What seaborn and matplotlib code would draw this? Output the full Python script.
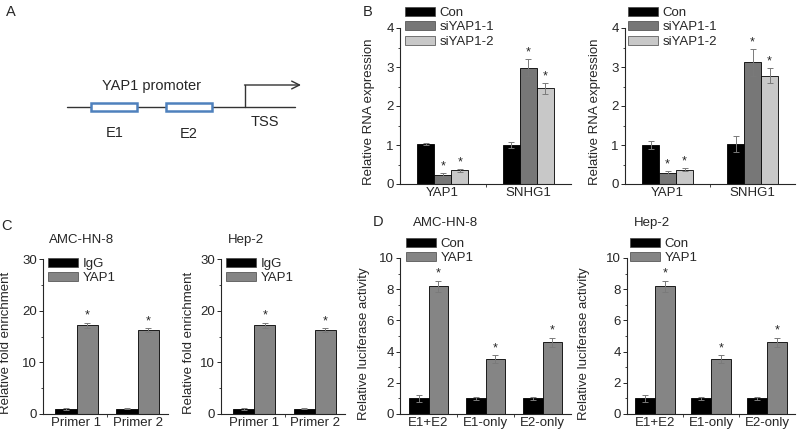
import numpy as np
import pandas as pd
import matplotlib
matplotlib.use("Agg")
import matplotlib.pyplot as plt
import seaborn as sns
from matplotlib.patches import Patch, Rectangle
from matplotlib.ticker import MultipleLocator, FixedLocator

sns.set_style("ticks")
plt.rcParams['font.family'] = ['Liberation Sans', 'DejaVu Sans']

W, H = 800, 437

# ---- data ----
# panel B (RNA expression after YAP1 knockdown)
b_genes = ['YAP1', 'SNHG1']
b_groups = ['Con', 'siYAP1-1', 'siYAP1-2']
b_colors = ['#000000', '#777777', '#c8c8c8']
b1_means = [[1.02, 1.00], [0.23, 2.98], [0.35, 2.45]]
b1_errs = [[0.03, 0.07], [0.06, 0.22], [0.03, 0.13]]
b2_means = [[1.00, 1.03], [0.28, 3.12], [0.37, 2.78]]
b2_errs = [[0.10, 0.20], [0.06, 0.35], [0.04, 0.20]]
b_stars = [[False, False], [True, True], [True, True]]

# panel C (ChIP fold enrichment)
c_primers = ['Primer 1', 'Primer 2']
c_groups = ['IgG', 'YAP1']
c_colors = ['#000000', '#858585']
c1_means = [[1.0, 1.0], [17.2, 16.3]]
c1_errs = [[0.15, 0.1], [0.5, 0.4]]
c2_means = [[1.0, 1.0], [17.2, 16.3]]
c2_errs = [[0.15, 0.1], [0.5, 0.4]]
c_stars = [[False, False], [True, True]]

# panel D (luciferase activity)
d_constructs = ['E1+E2', 'E1-only', 'E2-only']
d_groups = ['Con', 'YAP1']
d_colors = ['#000000', '#858585']
d1_means = [[1.0, 1.0, 1.0], [8.2, 3.55, 4.6]]
d1_errs = [[0.2, 0.1, 0.1], [0.35, 0.25, 0.3]]
d2_means = [[1.0, 1.0, 1.0], [8.2, 3.55, 4.6]]
d2_errs = [[0.2, 0.1, 0.1], [0.35, 0.25, 0.3]]
d_stars = [[False, False, False], [True, True, True]]

fig = plt.figure(figsize=(W / 100, H / 100), dpi=100)


def px_rect(x0, x1, ytop, ybot):
    return [x0 / W, 1 - ybot / H, (x1 - x0) / W, (ybot - ytop) / H]


def bar_panel(rect, cats, groups, colors, means, errs, stars, ymax, ystep,
              width, xlim, ylabel, label_xy, legend_xy, title=None):
    x0, x1, ytop, ybot = rect
    ax = fig.add_axes(px_rect(*rect))
    rows = [(c, g, m) for g, ms in zip(groups, means) for c, m in zip(cats, ms)]
    df = pd.DataFrame(rows, columns=['cat', 'grp', 'val'])
    sns.barplot(data=df, x='cat', y='val', hue='grp', order=cats, hue_order=groups,
                palette=colors, width=width, errorbar=None, edgecolor='black',
                linewidth=0.6, legend=False, ax=ax)
    for cont, es, ss in zip(ax.containers, errs, stars):
        for bar, e, s in zip(cont, es, ss):
            cx = bar.get_x() + bar.get_width() / 2
            top = bar.get_height()
            ax.errorbar(cx, top, yerr=e, color='#7a7a7a', capsize=2, lw=0.7,
                        capthick=0.7)
            if s:
                ax.annotate('*', (cx, top + e), xytext=(0, 0.5),
                            textcoords='offset points', ha='center', va='bottom',
                            fontsize=9)
    ax.set_xlim(*xlim)
    ax.set_ylim(0, ymax)
    ax.yaxis.set_major_locator(MultipleLocator(ystep))
    ax.yaxis.set_minor_locator(MultipleLocator(ystep / 2))
    ax.xaxis.set_minor_locator(FixedLocator([i + 0.5 for i in range(len(cats) - 1)]))
    ax.tick_params(axis='both', which='major', labelsize=9.5, length=3, width=0.7,
                   pad=1.5, direction='out')
    ax.tick_params(axis='x', which='major', length=0, pad=2)
    ax.tick_params(axis='both', which='minor', length=1.8, width=0.6, direction='out')
    ax.set_xlabel('')
    ax.set_ylabel(ylabel, fontsize=9.5)
    lx_lab, ly_lab = label_xy
    ax.yaxis.set_label_coords((lx_lab - x0) / (x1 - x0), (ybot - ly_lab) / (ybot - ytop))
    for sp in ['top', 'right']:
        ax.spines[sp].set_visible(False)
    for sp in ['left', 'bottom']:
        ax.spines[sp].set_linewidth(0.8)
    handles = [Patch(facecolor=c, edgecolor='#444444', linewidth=0.5) for c in colors]
    lx, ly = legend_xy
    fig.legend(handles, groups, loc='upper left',
               bbox_to_anchor=(lx / W, 1 - ly / H), frameon=False, fontsize=9.5,
               handlelength=2.3, handleheight=0.65, handletextpad=0.3,
               labelspacing=0.18, borderpad=0, borderaxespad=0)
    if title:
        tx, ty = title[1]
        fig.text(tx / W, 1 - ty / H, title[0], ha='center', va='center', fontsize=9.5)
    return ax


# ---- panel B ----
bar_panel((400, 571, 28, 184), b_genes, b_groups, b_colors, b1_means, b1_errs,
          b_stars, 4, 1, 0.6, (-0.5, 1.5), 'Relative RNA expression', (375, 112),
          (405, 7))
bar_panel((625, 795, 28, 184), b_genes, b_groups, b_colors, b2_means, b2_errs,
          b_stars, 4, 1, 0.6, (-0.5, 1.5), 'Relative RNA expression', (601, 112),
          (628, 7))

# ---- panel C ----
bar_panel((43, 168, 259, 414), c_primers, c_groups, c_colors, c1_means, c1_errs,
          c_stars, 30, 10, 0.7, (-0.55, 1.5), 'Relative fold enrichment', (12, 343),
          (48, 258), title=('AMC-HN-8', (82, 240)))
bar_panel((221, 345, 259, 414), c_primers, c_groups, c_colors, c2_means, c2_errs,
          c_stars, 30, 10, 0.7, (-0.55, 1.5), 'Relative fold enrichment', (195, 343),
          (226, 258), title=('Hep-2', (246, 240)))

# ---- panel D ----
bar_panel((400, 571, 258, 414), d_constructs, d_groups, d_colors, d1_means, d1_errs,
          d_stars, 10, 2, 0.7, (-0.5, 2.5), 'Relative luciferase activity', (370, 344),
          (406, 238), title=('AMC-HN-8', (446, 223)))
bar_panel((627, 795, 258, 414), d_constructs, d_groups, d_colors, d2_means, d2_errs,
          d_stars, 10, 2, 0.7, (-0.5, 2.5), 'Relative luciferase activity', (590, 344),
          (630, 238), title=('Hep-2', (652, 223)))

# ---- panel A: promoter diagram ----
axa = fig.add_axes(px_rect(0, 360, 0, 218.5))
axa.set_xlim(0, 360)
axa.set_ylim(218.5, 0)
axa.axis('off')
axa.plot([67, 295], [107, 107], color='#333333', lw=1.0)
for bx in [91, 166]:
    axa.add_patch(Rectangle((bx, 103), 46, 8, facecolor='white',
                            edgecolor='#4f81bd', lw=1.8, zorder=3))
axa.plot([245, 245], [107, 85], color='#333333', lw=1.0)
axa.annotate('', xy=(301, 85), xytext=(244.5, 85),
             arrowprops=dict(arrowstyle='->', color='#333333', lw=1.0,
                             mutation_scale=14, shrinkA=0, shrinkB=0))
axa.text(151, 86, 'YAP1 promoter', ha='center', va='center', fontsize=10.5)
axa.text(115, 133, 'E1', ha='center', va='center', fontsize=10.5)
axa.text(189, 134, 'E2', ha='center', va='center', fontsize=10.5)
axa.text(265, 122, 'TSS', ha='center', va='center', fontsize=10.5)

# panel letters
for letter, (x, y) in {'A': (11, 12), 'B': (368, 12), 'C': (6, 226),
                       'D': (378, 222)}.items():
    fig.text(x / W, 1 - y / H, letter, ha='center', va='center', fontsize=10.5)

fig.savefig('out.png', dpi=100)
